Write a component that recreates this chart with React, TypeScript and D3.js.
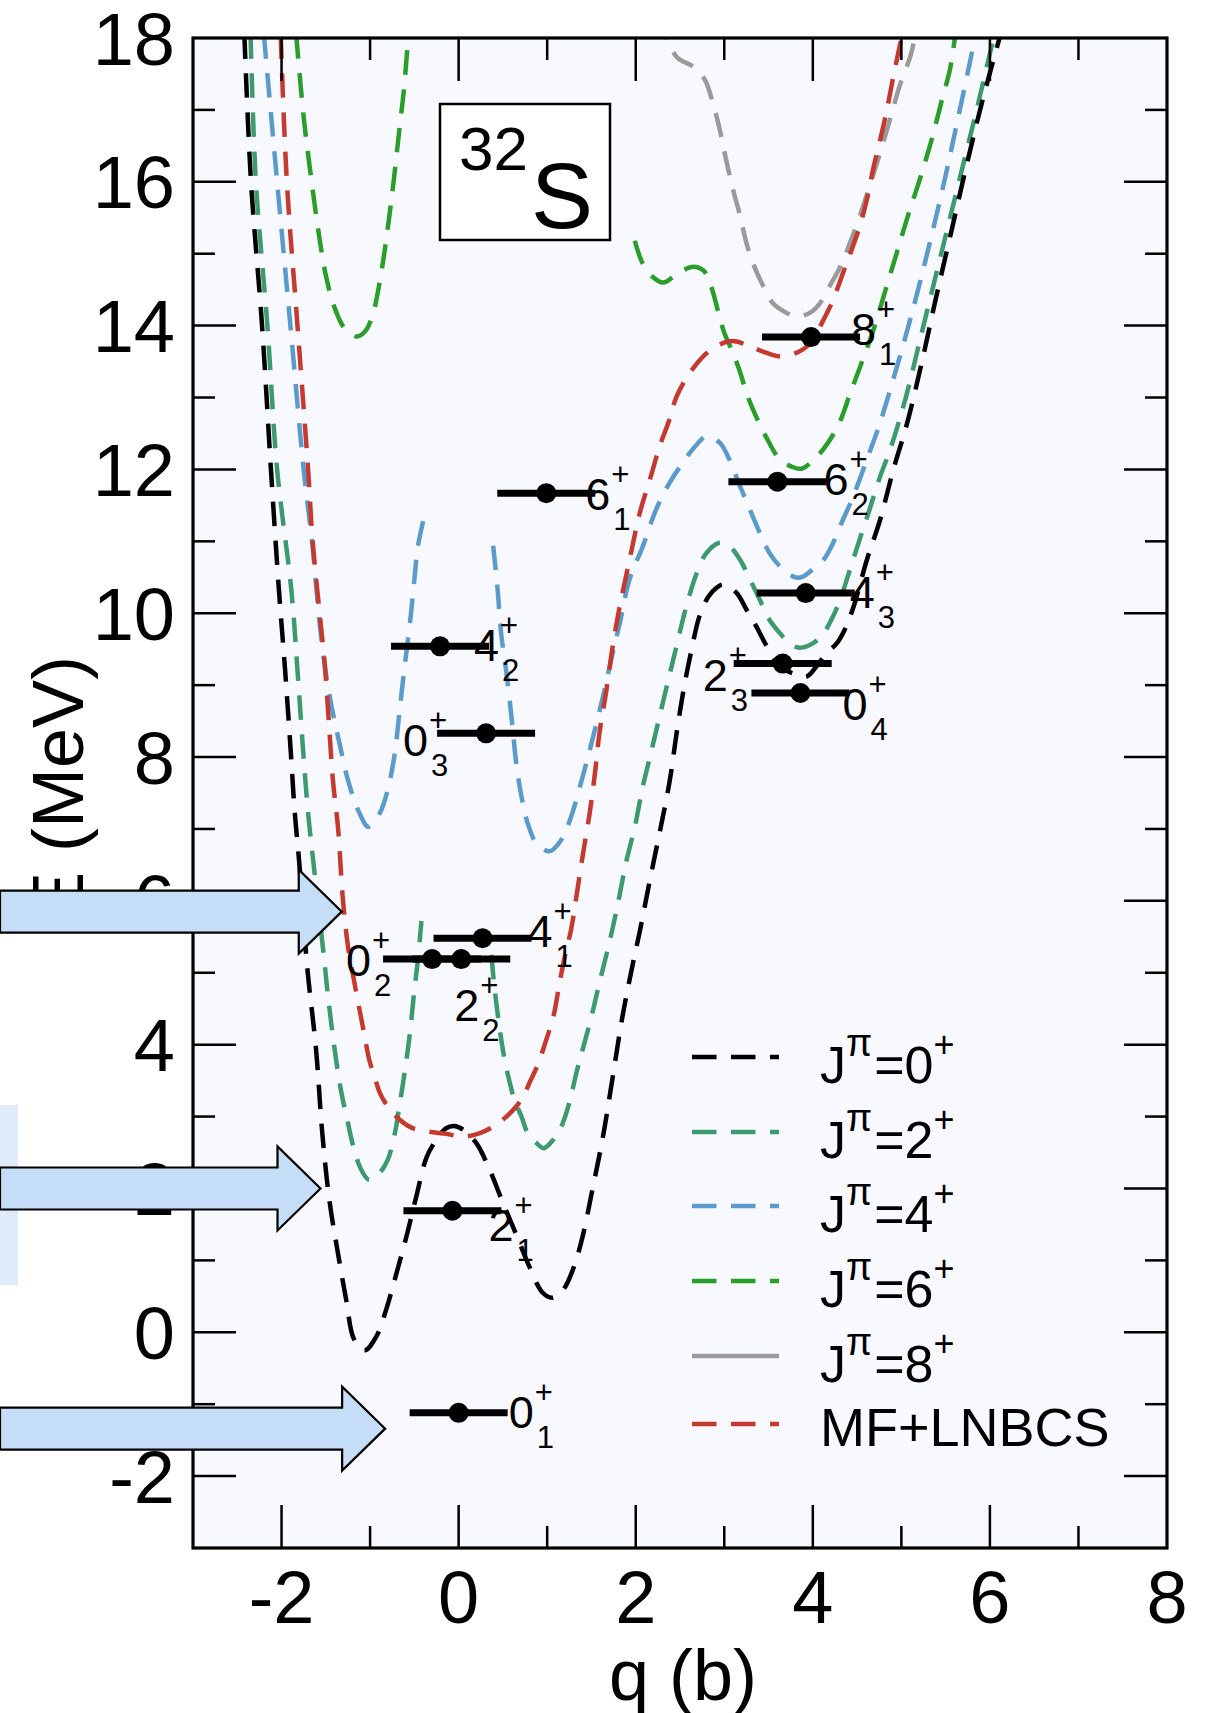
import React from 'react';
import * as d3 from 'd3';

// ---- data: q (b), E (MeV) ----
const J0_CURVE = [
  [-2.42, 18.05], [-2.345, 16], [-2.22, 14], [-2.12, 12], [-2.03, 10.33], [-1.96, 9.21], [-1.9, 8.15],
  [-1.85, 7.22], [-1.8, 6.53], [-1.71, 5.08], [-1.61, 3.93], [-1.54, 2.77], [-1.46, 1.84], [-1.37, 1.15],
  [-1.27, 0.45], [-1.18, -0.1], [-1.06, -0.25], [-0.93, -0.06], [-0.81, 0.35], [-0.7, 0.83], [-0.59, 1.33],
  [-0.48, 1.88], [-0.36, 2.44], [-0.25, 2.68], [-0.14, 2.84], [-0.05, 2.87], [0.05, 2.82], [0.2, 2.63],
  [0.35, 2.26], [0.5, 1.8], [0.66, 1.33], [0.8, 0.91], [0.95, 0.55], [1.06, 0.48], [1.18, 0.59], [1.29, 0.87],
  [1.4, 1.33], [1.51, 1.98], [1.63, 2.72], [1.74, 3.55], [1.85, 4.39], [1.97, 5.14], [2.05, 5.6], [2.16, 6.29],
  [2.27, 6.95], [2.38, 7.64], [2.47, 8.4], [2.55, 9.0], [2.63, 9.49], [2.72, 9.96], [2.82, 10.23], [2.91, 10.35],
  [2.99, 10.4], [3.14, 10.28], [3.25, 10.05], [3.36, 9.82], [3.48, 9.54], [3.63, 9.26], [3.78, 9.16], [3.93, 9.12],
  [4.04, 9.26], [4.16, 9.45], [4.27, 9.58], [4.36, 9.77], [4.46, 10.09], [4.61, 10.74], [4.76, 11.3], [4.91, 12.0],
  [5.06, 12.62], [5.22, 13.43], [5.39, 14.38], [5.57, 15.34], [5.75, 16.3], [5.92, 17.15], [6.12, 18.05],
];

const J2_LEFT = [
  [-2.35, 18.05], [-2.29, 16], [-2.16, 14], [-2.05, 12], [-1.89, 10.33], [-1.82, 9.21], [-1.76, 8.15],
  [-1.7, 7.22], [-1.64, 6.53], [-1.53, 5.32], [-1.47, 4.62], [-1.4, 3.93], [-1.33, 3.37], [-1.25, 2.91],
  [-1.18, 2.54], [-1.1, 2.26], [-1.01, 2.12], [-0.89, 2.22], [-0.8, 2.4], [-0.72, 2.77], [-0.67, 3.14],
  [-0.61, 3.61], [-0.55, 4.16], [-0.5, 4.76], [-0.46, 5.18], [-0.42, 5.72],
];
const J2_RIGHT = [
  [0.37, 5.25], [0.4, 4.85], [0.46, 4.25], [0.52, 3.79], [0.58, 3.46], [0.63, 3.23], [0.71, 3.0], [0.78, 2.77],
  [0.88, 2.63], [0.96, 2.56], [1.07, 2.68], [1.16, 2.86], [1.25, 3.19], [1.33, 3.61], [1.4, 3.93], [1.5, 4.39],
  [1.59, 4.86], [1.71, 5.46], [1.8, 5.97], [1.89, 6.53], [1.99, 7.03], [2.08, 7.59], [2.18, 8.1], [2.35, 8.98],
  [2.46, 9.54], [2.57, 10.09], [2.69, 10.56], [2.8, 10.84], [2.95, 10.98], [3.06, 10.93], [3.18, 10.74],
  [3.29, 10.47], [3.4, 10.19], [3.51, 9.91], [3.63, 9.72], [3.74, 9.58], [3.85, 9.52], [4.0, 9.58], [4.12, 9.72],
  [4.23, 9.96], [4.32, 10.23], [4.42, 10.61], [4.53, 11.03], [4.64, 11.44], [4.76, 11.9], [4.88, 12.3],
  [5.05, 13], [5.25, 14], [5.45, 15], [5.65, 16], [5.85, 17], [6.05, 18.05],
];

const J4_LEFT = [
  [-2.2, 18.05], [-2.05, 16], [-1.9, 14], [-1.75, 12], [-1.65, 10.93], [-1.57, 9.86], [-1.5, 9.17],
  [-1.42, 8.61], [-1.345, 8.19], [-1.25, 7.68], [-1.12, 7.22], [-1.02, 7.03], [-0.89, 7.22], [-0.8, 7.55],
  [-0.72, 8.06], [-0.67, 8.61], [-0.61, 9.26], [-0.55, 9.86], [-0.5, 10.47], [-0.46, 10.93], [-0.4, 11.28],
];
const J4_RIGHT = [
  [0.39, 10.94], [0.44, 10.33], [0.48, 9.72], [0.54, 9.17], [0.6, 8.52], [0.65, 7.92], [0.71, 7.45],
  [0.78, 7.08], [0.88, 6.8], [1.03, 6.69], [1.16, 6.85], [1.27, 7.17], [1.39, 7.68], [1.5, 8.19], [1.63, 8.84],
  [1.74, 9.45], [1.82, 9.86], [1.93, 10.47], [2.08, 10.93], [2.23, 11.44], [2.38, 11.81], [2.53, 12.09],
  [2.67, 12.32], [2.8, 12.46], [2.95, 12.37], [3.06, 12.13], [3.18, 11.76], [3.29, 11.44], [3.4, 11.12],
  [3.51, 10.84], [3.63, 10.65], [3.78, 10.51], [3.87, 10.5], [4.0, 10.61], [4.12, 10.74], [4.23, 10.98],
  [4.34, 11.3], [4.455, 11.62], [4.57, 12.0], [4.68, 12.37], [4.76, 12.65], [4.92, 13.3], [5.07, 13.95],
  [5.22, 14.65], [5.37, 15.4], [5.52, 16.2], [5.66, 17.0], [5.84, 18.05],
];

const J6_LEFT = [
  [-1.835, 18.05], [-1.75, 16.9], [-1.66, 16.0], [-1.575, 15.24], [-1.5, 14.7], [-1.41, 14.28], [-1.3, 13.98],
  [-1.2, 13.87], [-1.14, 13.85], [-1.05, 13.93], [-0.97, 14.15], [-0.9, 14.55], [-0.84, 15.0], [-0.78, 15.55],
  [-0.73, 16.05], [-0.67, 16.72], [-0.62, 17.26], [-0.58, 17.84],
];
const J6_RIGHT = [
  [1.99, 15.18], [2.08, 14.86], [2.19, 14.68], [2.31, 14.6], [2.48, 14.73], [2.65, 14.82], [2.77, 14.76],
  [2.85, 14.55], [2.93, 14.2], [3.0, 13.9], [3.07, 13.7], [3.16, 13.42], [3.27, 13.0], [3.38, 12.68],
  [3.49, 12.41], [3.62, 12.15], [3.76, 12.04], [3.87, 12.01], [4.0, 12.12], [4.13, 12.3], [4.29, 12.62],
  [4.42, 13.05], [4.55, 13.48], [4.69, 13.96], [4.82, 14.49], [4.95, 15.02], [5.08, 15.55], [5.22, 16.08],
  [5.35, 16.62], [5.46, 17.15], [5.55, 17.57], [5.61, 18.05],
];

const J8_CURVE = [
  [2.25, 18.3], [2.46, 17.74], [2.65, 17.6], [2.78, 17.42], [2.87, 17.1], [2.95, 16.72], [3.02, 16.31],
  [3.1, 15.89], [3.18, 15.52], [3.25, 15.15], [3.34, 14.82], [3.44, 14.55], [3.55, 14.31], [3.7, 14.18],
  [3.83, 14.13], [3.97, 14.18], [4.08, 14.31], [4.19, 14.55], [4.31, 14.82], [4.42, 15.15], [4.53, 15.52],
  [4.64, 15.94], [4.76, 16.4], [4.87, 16.86], [4.98, 17.33], [5.1, 17.74], [5.16, 18.05],
];

const MF_CURVE = [
  [-2.01, 18.05], [-1.94, 16], [-1.82, 14], [-1.7, 12], [-1.65, 11.02], [-1.57, 10.0], [-1.51, 9.26],
  [-1.46, 8.38], [-1.42, 7.68], [-1.36, 6.99], [-1.31, 6.06], [-1.25, 5.37], [-1.19, 4.95], [-1.12, 4.49],
  [-1.06, 4.11], [-1.01, 3.79], [-0.95, 3.56], [-0.89, 3.33], [-0.8, 3.14], [-0.67, 2.96], [-0.52, 2.84],
  [-0.33, 2.79], [-0.14, 2.76], [0.05, 2.72], [0.24, 2.77], [0.39, 2.86], [0.54, 3.0], [0.65, 3.14],
  [0.73, 3.28], [0.8, 3.47], [0.9, 3.74], [0.99, 4.07], [1.07, 4.39], [1.14, 4.86], [1.2, 5.23], [1.27, 5.6],
  [1.33, 6.06], [1.4, 6.62], [1.48, 7.22], [1.54, 7.78], [1.59, 8.33], [1.67, 8.94], [1.74, 9.54], [1.82, 10.1],
  [1.93, 10.74], [2.045, 11.39], [2.16, 11.86], [2.27, 12.32], [2.38, 12.69], [2.46, 13.01], [2.61, 13.34],
  [2.76, 13.57], [2.91, 13.71], [3.04, 13.78], [3.14, 13.78], [3.29, 13.71], [3.48, 13.62], [3.66, 13.57],
  [3.89, 13.67], [4.0, 13.8], [4.12, 14.08], [4.23, 14.36], [4.34, 14.73], [4.44, 15.06], [4.53, 15.38],
  [4.61, 15.75], [4.68, 16.17], [4.76, 16.58], [4.83, 16.96], [4.91, 17.47], [4.98, 17.88], [5.01, 18.05],
];

// levels: J, index, q, E
const LEVELS = [
  ['0', '1', 0.0, -1.12],
  ['2', '1', -0.07, 1.69],
  ['0', '2', -0.3, 5.19],
  ['2', '2', 0.03, 5.19],
  ['4', '1', 0.27, 5.48],
  ['0', '3', 0.31, 8.33],
  ['4', '2', -0.21, 9.54],
  ['6', '1', 0.99, 11.67],
  ['8', '1', 3.98, 13.84],
  ['6', '2', 3.6, 11.83],
  ['4', '3', 3.92, 10.28],
  ['2', '3', 3.66, 9.3],
  ['0', '4', 3.86, 8.89],
];

const X_TICKS = [-2, 0, 2, 4, 6, 8];
const Y_TICKS = [-2, 0, 2, 4, 6, 8, 10, 12, 14, 16, 18];

const LEGEND_NAMES = ['0', '2', '4', '6', '8'];

// layout (pixels)
const W = 1213;
const H = 1713;
const PLOT = { left: 193, right: 1167, top: 38, bottom: 1548 };
// label placement relative to the level dot: [dx, dy] of the big digit's baseline-left
const LABEL_OFFSET = [
  [52, 15], [38, 30], [-84, 17], [-5, 62], [47, 9], [-81, 23], [36, 15],
  [41, 17], [42, 8], [48, 13], [46, 15], [-78, 27], [44, 27],
];
// arrow tips in data coordinates
const ARROWS = [
  { q: -1.32, e: 5.85 },
  { q: -1.56, e: 2.0 },
  { q: -0.83, e: -1.34 },
];

const FONT = "'Liberation Sans', Arial, Helvetica, sans-serif";
const DASH = '24.5 14.5';

export default function App() {
  const x = d3.scaleLinear().domain([-3, 8]).range([PLOT.left, PLOT.right]);
  const y = d3.scaleLinear().domain([-3, 18]).range([PLOT.bottom, PLOT.top]);

  const line = d3
    .line<number[]>()
    .x((d) => x(d[0]))
    .y((d) => y(d[1]))
    .curve(d3.curveCatmullRom.alpha(0.5));

  const series = [
    { pieces: [J8_CURVE], color: '#9a9a9a' },
    { pieces: [J6_LEFT, J6_RIGHT], color: '#2b9d2b' },
    { pieces: [J4_LEFT, J4_RIGHT], color: '#5b9bcb' },
    { pieces: [J2_LEFT, J2_RIGHT], color: '#3c9a6e' },
    { pieces: [J0_CURVE], color: '#000000' },
    { pieces: [MF_CURVE], color: '#c43a2f' },
  ];
  const legendColors = ['#000000', '#3c9a6e', '#5b9bcb', '#2b9d2b', '#9a9a9a'];
  const legendY = [1057, 1132, 1206, 1281, 1356];

  const minorX = d3.range(-2, 8, 1);
  const minorY = d3.range(-2, 18, 1);

  const tickLabelSize = 74;
  const digitSize = 45;
  const smallSize = 31;

  return (
    <svg
      width={W}
      height={H}
      style={{ position: 'absolute', left: 0, top: 0 }}
      fontFamily={FONT}
    >
      <rect x={0} y={0} width={W} height={H} fill="#ffffff" />
      <rect
        x={PLOT.left}
        y={PLOT.top}
        width={PLOT.right - PLOT.left}
        height={PLOT.bottom - PLOT.top}
        fill="#f8f8ff"
      />
      <defs>
        <clipPath id="plotclip">
          <rect
            x={PLOT.left}
            y={PLOT.top}
            width={PLOT.right - PLOT.left}
            height={PLOT.bottom - PLOT.top}
          />
        </clipPath>
      </defs>

      <g clipPath="url(#plotclip)">
        {series.map((s, i) =>
          s.pieces.map((p, j) => (
            <path
              key={`${i}-${j}`}
              d={line(p) || ''}
              fill="none"
              stroke={s.color}
              strokeWidth={4.5}
              strokeDasharray={DASH}
            />
          ))
        )}
      </g>

      {/* ticks */}
      <g stroke="#000" strokeWidth={2.5}>
        {minorX.map((v) => {
          const len = v % 2 === 0 ? 43 : 22;
          return (
            <g key={`xt${v}`}>
              <line x1={x(v)} x2={x(v)} y1={PLOT.bottom} y2={PLOT.bottom - len} />
              <line x1={x(v)} x2={x(v)} y1={PLOT.top} y2={PLOT.top + len} />
            </g>
          );
        })}
        {minorY.map((v) => {
          const len = v % 2 === 0 ? 43 : 22;
          return (
            <g key={`yt${v}`}>
              <line x1={PLOT.left} x2={PLOT.left + len} y1={y(v)} y2={y(v)} />
              <line x1={PLOT.right} x2={PLOT.right - len} y1={y(v)} y2={y(v)} />
            </g>
          );
        })}
      </g>
      <rect
        x={PLOT.left}
        y={PLOT.top}
        width={PLOT.right - PLOT.left}
        height={PLOT.bottom - PLOT.top}
        fill="none"
        stroke="#000"
        strokeWidth={3.2}
      />

      {/* nucleus box */}
      <rect x={440} y={104} width={170} height={136} fill="#ffffff" stroke="#000" strokeWidth={2.5} />
      <text x={459} y={170} fontSize={62}>32</text>
      <text x={531} y={228} fontSize={93}>S</text>

      {/* levels */}
      {LEVELS.map((lv, i) => {
        const [j, n, q, e] = lv as [string, string, number, number];
        const cx = x(q);
        const cy = y(e);
        const [dx, dy] = LABEL_OFFSET[i];
        const lx = cx + dx - 2;
        const ly = cy + dy;
        const dw = 0.556 * digitSize;
        return (
          <g key={`lv${i}`}>
            <line x1={cx - 49} x2={cx + 49} y1={cy} y2={cy} stroke="#000" strokeWidth={7} />
            <circle cx={cx} cy={cy} r={10} fill="#000" />
            <text x={lx} y={ly} fontSize={digitSize}>{j}</text>
            <text x={lx + dw + 1} y={ly - 25} fontSize={smallSize}>+</text>
            <text x={lx + dw + 3} y={ly + 20} fontSize={smallSize}>{n}</text>
          </g>
        );
      })}

      {/* legend */}
      {LEGEND_NAMES.map((nm, i) => (
        <g key={`lg${nm}`}>
          <line
            x1={692}
            x2={779}
            y1={legendY[i]}
            y2={legendY[i]}
            stroke={legendColors[i]}
            strokeWidth={4.5}
            strokeDasharray={nm === '8' ? undefined : DASH}
          />
          <text x={820} y={legendY[i] + 26} fontSize={52}>
            J
            <tspan fontSize={38} dy={-27}>π</tspan>
            <tspan fontSize={52} dy={27} dx={2}>={nm}</tspan>
            <tspan fontSize={36} dy={-26}>+</tspan>
          </text>
        </g>
      ))}
      <line x1={692} x2={779} y1={1424} y2={1424} stroke="#c43a2f" strokeWidth={4.5} strokeDasharray={DASH} />
      <text x={820} y={1446} fontSize={54}>MF+LNBCS</text>

      {/* tick labels */}
      {Y_TICKS.map((v) => (
        <text
          key={`yl${v}`}
          x={175}
          y={y(v) + 0.36 * tickLabelSize}
          fontSize={tickLabelSize}
          textAnchor="end"
        >
          {v}
        </text>
      ))}
      {X_TICKS.map((v) => (
        <text key={`xl${v}`} x={x(v)} y={1623} fontSize={tickLabelSize} textAnchor="middle">
          {v}
        </text>
      ))}
      <text x={683} y={1700} fontSize={72} textAnchor="middle">q (b)</text>
      <text transform="translate(83, 788) rotate(-90)" fontSize={72} textAnchor="middle">
        E (MeV)
      </text>

      {/* overlay annotations */}
      <rect x={0} y={1105} width={18} height={180} fill="#dfeafb" />
      {ARROWS.map((a, i) => {
        const tx = x(a.q);
        const ty = y(a.e);
        const hx = tx - 43;
        const pts = [
          [0, ty - 21],
          [hx, ty - 21],
          [hx, ty - 42],
          [tx, ty],
          [hx, ty + 42],
          [hx, ty + 21],
          [0, ty + 21],
        ];
        return (
          <polygon
            key={`ar${i}`}
            points={pts.map((p) => p.join(',')).join(' ')}
            fill="#c6ddf7"
            stroke="#000"
            strokeWidth={2.2}
          />
        );
      })}
    </svg>
  );
}
